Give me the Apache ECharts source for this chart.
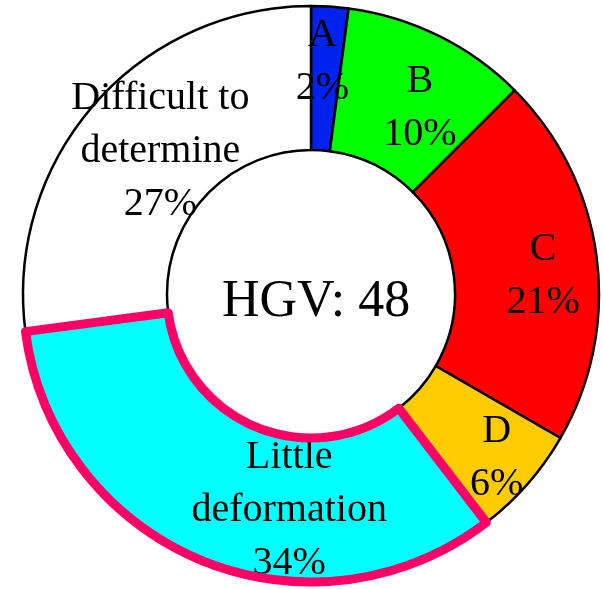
<!DOCTYPE html>
<html>
<head>
<meta charset="utf-8">
<script src="https://cdn.jsdelivr.net/npm/echarts@6/dist/echarts.min.js"></script>
<style>
  html, body { margin: 0; padding: 0; background: #fff; }
  #chart { width: 603px; height: 589px; }
</style>
</head>
<body>
<div id="chart"></div>
<script>
// HGV damage categories, counts out of 48 and the rounded shares printed on the slices
const categories = ['A', 'B', 'C', 'D', 'Little\ndeformation', 'Difficult to\ndetermine'];
const counts = [1, 5, 10, 3, 16, 13];
const percents = [2, 10, 21, 6, 34, 27];
const colors = ['#0022ee', '#00ff00', '#ff0000', '#ffcc00', '#00ffff', '#ffffff'];
const centerLabel = 'HGV: 48';
const highlighted = 'Little\ndeformation';

// nudge labels to where the original placed them
const labelShift = [[-3, -13], [12, 10], [15, 11], [21, 20], [62, 14], [14, 2]];

const chart = echarts.init(document.getElementById('chart'));

const mainData = categories.map((name, i) => ({
  name,
  value: counts[i],
  itemStyle: { color: colors[i] }
}));

const outlineData = categories.map((name, i) => ({
  name,
  value: counts[i],
  itemStyle: name === highlighted
    ? { color: 'transparent', borderColor: '#ff0066', borderWidth: 9, borderJoin: 'round' }
    : { color: 'transparent', borderWidth: 0 }
}));

const pieBase = {
  type: 'pie',
  center: [311, 294],
  radius: [144, 288],
  startAngle: 90,
  clockwise: true,
  avoidLabelOverlap: false,
  animation: false,
  emphasis: { disabled: true },
  labelLine: { show: false }
};

chart.setOption({
  backgroundColor: '#fff',
  series: [
    Object.assign({}, pieBase, {
      z: 2,
      itemStyle: { borderColor: '#000', borderWidth: 2.5 },
      label: {
        show: true,
        position: 'inside',
        color: '#000',
        fontFamily: '"Liberation Serif", "Times New Roman", serif',
        fontSize: 40,
        lineHeight: 53,
        align: 'center',
        formatter: p => p.name + '\n' + percents[p.dataIndex] + '%'
      },
      labelLayout: p => ({ dx: labelShift[p.dataIndex][0], dy: labelShift[p.dataIndex][1] }),
      data: mainData
    }),
    Object.assign({}, pieBase, {
      z: 3,
      silent: true,
      label: { show: false },
      data: outlineData
    })
  ],
  graphic: [{
    type: 'text',
    left: 222,
    top: 276,
    style: {
      text: centerLabel,
      fill: '#000',
      font: '52px "Liberation Serif", "Times New Roman", serif'
    }
  }]
});
</script>
</body>
</html>
